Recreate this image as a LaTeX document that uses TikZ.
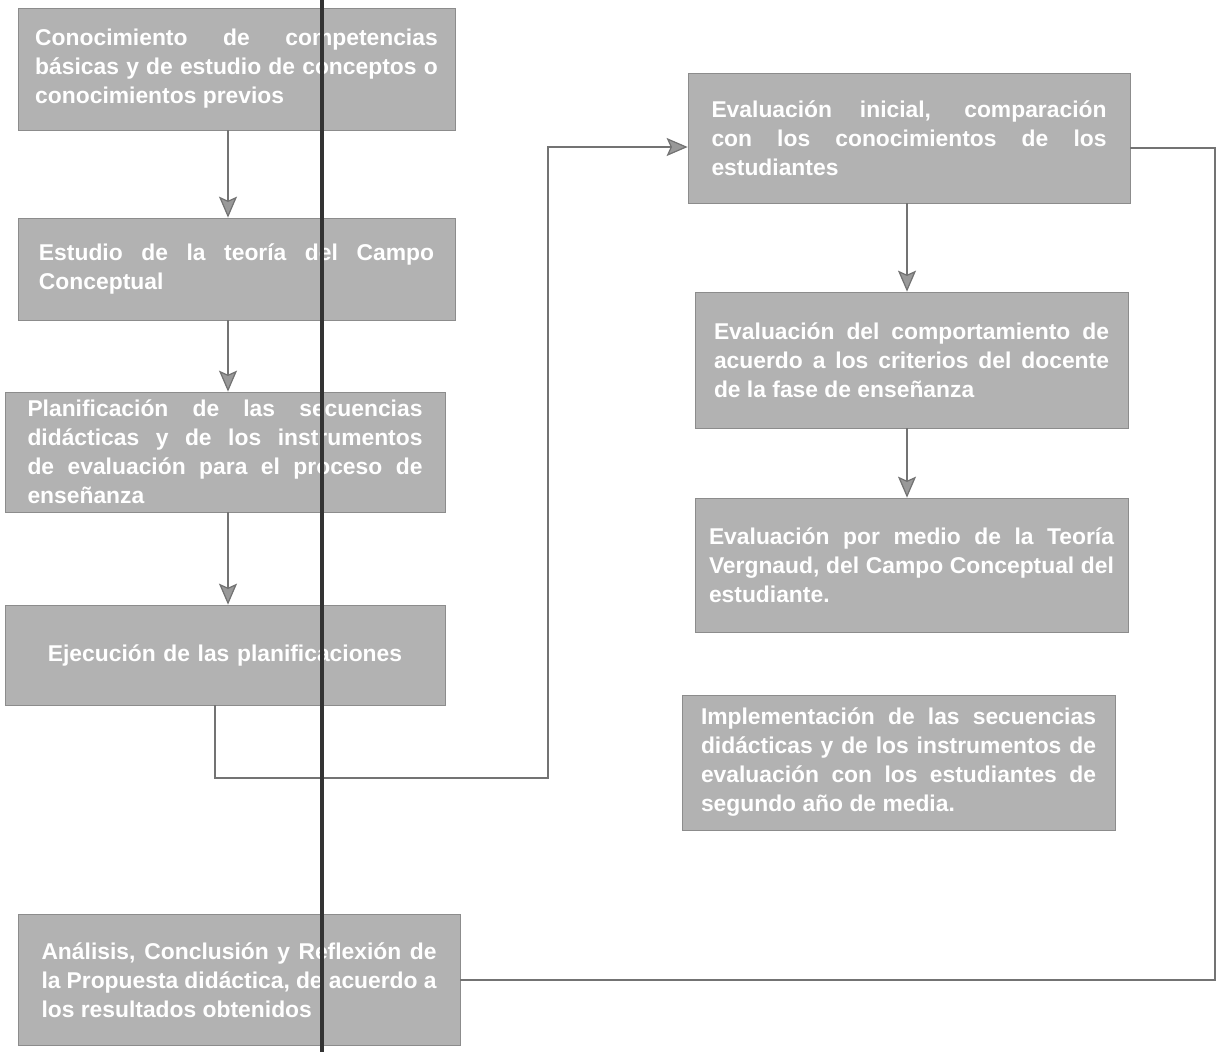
\documentclass[tikz,border=0pt]{standalone}
\usepackage{fontspec}
\setmainfont{Liberation Sans}
\usetikzlibrary{arrows.meta}
\hyphenpenalty=10000
\exhyphenpenalty=10000
\begin{document}
\begin{tikzpicture}[y=-1cm,
    etapa/.style={rectangle, draw=black!45, fill=black!30, text=white,
      font=\bfseries\fontsize{13}{16.5}\selectfont, align=justify,
      inner sep=0pt, text width=7.9cm},
    flecha/.style={draw=black!55, line width=0.7pt,
      -{Stealth[length=0.42cm,width=0.36cm,inset=0.08cm,fill=black!40]}},
    linea/.style={draw=black!55, line width=0.7pt}]
    \useasboundingbox (0,0) rectangle (24.4,21.04);

    % columna izquierda
    \node[etapa, minimum width=8.74cm, minimum height=2.44cm, text width=8.05cm] (conoc) at (4.73,1.38)
      {Conocimiento de competencias básicas y de estudio de conceptos o conocimientos previos};
    \node[etapa, minimum width=8.74cm, minimum height=2.04cm] (estudio) at (4.73,5.38)
      {Estudio de la teoría del Campo Conceptual};
    \node[etapa, minimum width=8.8cm, minimum height=2.4cm] (planif) at (4.5,9.04)
      {Planificación de las secuencias didácticas y de los instrumentos de evaluación para el proceso de enseñanza};
    \node[etapa, minimum width=8.8cm, minimum height=2.0cm, align=center] (ejec) at (4.5,13.1)
      {Ejecución de las planificaciones};
    \node[etapa, minimum width=8.84cm, minimum height=2.62cm] (analisis) at (4.78,19.6)
      {Análisis, Conclusión y Reflexión de la Propuesta didáctica, de acuerdo a los resultados obtenidos};

    % columna derecha
    \node[etapa, minimum width=8.84cm, minimum height=2.6cm] (evalini) at (18.18,2.76)
      {Evaluación inicial, comparación con los conocimientos de los estudiantes};
    \node[etapa, minimum width=8.66cm, minimum height=2.72cm] (evalcomp) at (18.23,7.2)
      {Evaluación del comportamiento de acuerdo a los criterios del docente de la fase de enseñanza};
    \node[etapa, minimum width=8.66cm, minimum height=2.68cm, text width=8.1cm] (evalteo) at (18.23,11.3)
      {Evaluación por medio de la Teoría Vergnaud, del Campo Conceptual del estudiante.};
    \node[etapa, minimum width=8.66cm, minimum height=2.7cm] (implem) at (17.97,15.25)
      {Implementación de las secuencias didácticas y de los instrumentos de evaluación con los estudiantes de segundo año de media.};

    % conectores
    \draw[flecha] ([xshift=-0.17cm]conoc.south) -- ([xshift=-0.17cm]conoc.south |- estudio.north);
    \draw[flecha] ([xshift=-0.17cm]estudio.south) -- ([xshift=-0.17cm]estudio.south |- planif.north);
    \draw[flecha] ([xshift=0.06cm]planif.south) -- ([xshift=0.06cm]planif.south |- ejec.north);
    \draw[flecha] ([xshift=-0.2cm]ejec.south) |- (10.96,15.56) |- ([yshift=-0.18cm]evalini.west);
    \draw[flecha] ([xshift=-0.04cm]evalini.south) -- ([xshift=-0.04cm]evalini.south |- evalcomp.north);
    \draw[flecha] ([xshift=-0.09cm]evalcomp.south) -- ([xshift=-0.09cm]evalcomp.south |- evalteo.north);
    \draw[linea] ([yshift=-0.2cm]evalini.east) -| (24.3,19.6) -- (analisis.east);

    % pliegue
    \draw[line width=2.5pt, black!80] (6.44,0) -- (6.44,21.04);
\end{tikzpicture}
\end{document}
